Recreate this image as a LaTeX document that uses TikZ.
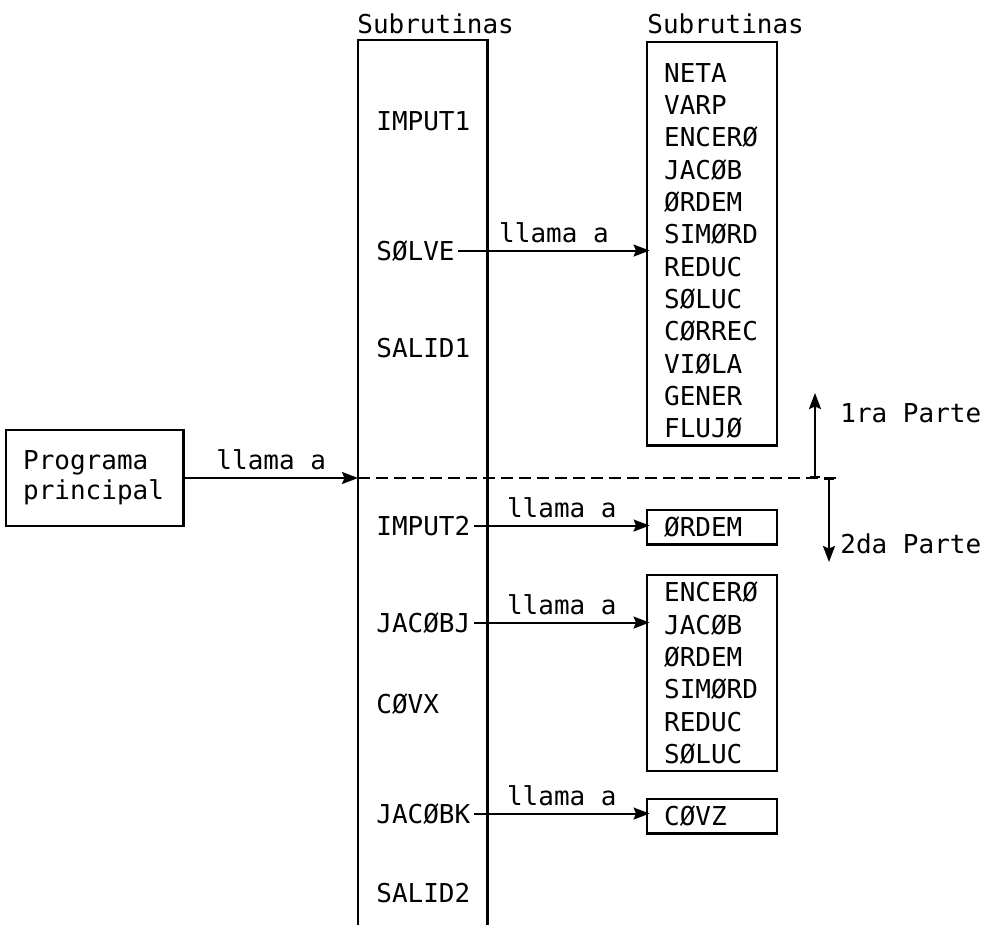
\documentclass[tikz,border=0pt]{standalone}
\usepackage{fontspec}
\newfontfamily\listfont{DejaVu Sans Mono}
\usetikzlibrary{arrows.meta, positioning}

\begin{document}
\begin{tikzpicture}[
  x=0.02cm, y=-0.02cm,
  txt/.style={font=\listfont\fontsize{14.8}{18.4}\selectfont, inner sep=0pt},
  item/.style={txt, anchor=base west},
  lbox/.style={
    rectangle, draw, line width=1.4pt, anchor=north west,
    align=left, text width=54.8pt, inner xsep=9.6pt, inner ysep=3.8pt,
    font=\listfont\fontsize{14.8}{18.4}\selectfont
  },
  arr/.style={-{Stealth[length=3.2mm, width=2.4mm, inset=0.5mm]}, line width=1.1pt},
  lbl/.style={txt, above=4pt, midway}
]
\useasboundingbox (0,0) rectangle (991,924);

% === Main program ===
\node[lbox, anchor=west, text width=81.6pt, minimum height=1.92cm,
      font=\listfont\fontsize{14.8}{17}\selectfont] (prog) at (5,478)
  {Programa\\principal};

% === Subroutine column ===
\node[item] (head1) at (357,33) {Subrutinas};
\node[minimum width=2.58cm, minimum height=17.68cm, inner sep=0pt,
      anchor=north west] (col) at (358,40) {};
\draw[line width=1.4pt] (col.south west) -- (col.north west)
  -- (col.north east) -- (col.south east);

\node[item] (imput1) at (376,130) {IMPUT1};
\node[item] (solve)  at (376,260) {SØLVE};
\node[item] (salid1) at (376,357) {SALID1};
\node[item] (imput2) at (376,535) {IMPUT2};
\node[item] (jacobj) at (376,632) {JACØBJ};
\node[item] (covx)   at (376,713) {CØVX};
\node[item] (jacobk) at (376,823) {JACØBK};
\node[item] (salid2) at (376,902) {SALID2};

% === Called subroutines ===
\node[item] (head2) at (647,33) {Subrutinas};
\node[lbox] (sub1) at (646,41) {
  \rule{0pt}{19pt}NETA\\VARP\\ENCERØ\\JACØB\\ØRDEM\\SIMØRD\\
  REDUC\\SØLUC\\CØRREC\\VIØLA\\GENER\\FLUJØ};
\node[lbox] (sub2) at (646,509) {ØRDEM};
\node[lbox] (sub3) at (646,574) {
  ENCERØ\\JACØB\\ØRDEM\\SIMØRD\\REDUC\\SØLUC};
\node[lbox] (sub4) at (646,798) {CØVZ};

% === Parts ===
\coordinate (cut) at (836,478);
\coordinate (up) at (815,393);
\coordinate (down) at (829,562);
\node[item] (parte1) at (840,422) {1ra Parte};
\node[item] (parte2) at (840,553) {2da Parte};

% === ARROWS ===
\draw[arr] (prog.east) -- node[lbl] {llama a} (prog.east -| col.west);
\draw[arr] ([xshift=2pt]solve.east) -- node[lbl] {llama a}
  ([xshift=2pt]solve.east -| sub1.west);
\draw[arr] ([xshift=2pt]imput2.east) -- node[lbl] {llama a}
  ([xshift=2pt]imput2.east -| sub2.west);
\draw[arr] ([xshift=2pt]jacobj.east) -- node[lbl] {llama a}
  ([xshift=2pt]jacobj.east -| sub3.west);
\draw[arr] ([xshift=2pt]jacobk.east) -- node[lbl] {llama a}
  ([xshift=2pt]jacobk.east -| sub4.west);

% === Division line ===
\draw[line width=1.1pt, dash pattern=on 6.8pt off 3.4pt]
  (prog.east -| col.west) -- (cut);
\draw[{Bar[width=2mm]}-{Stealth[length=3.2mm, width=2.4mm, inset=0.5mm]},
  line width=1.1pt] (up |- cut) -- (up);
\draw[{Bar[width=2mm]}-{Stealth[length=3.2mm, width=2.4mm, inset=0.5mm]},
  line width=1.1pt] (down |- cut) -- (down);

\end{tikzpicture}
\end{document}
